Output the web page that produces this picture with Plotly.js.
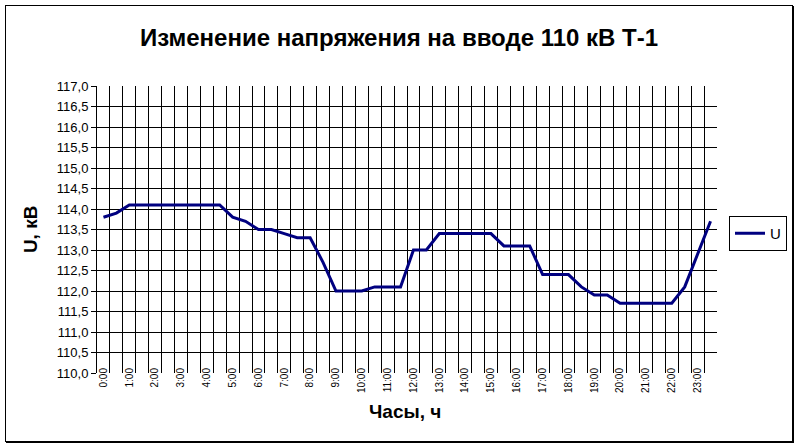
<!DOCTYPE html>
<html><head><meta charset="utf-8">
<script src="https://cdn.plot.ly/plotly-3.0.1.min.js"></script>
<style>
html,body{margin:0;padding:0;background:#fff;}
#wrap{position:relative;width:798px;height:447px;overflow:hidden;}
#chart{width:798px;height:447px;}
#frame{position:absolute;left:5px;top:5px;width:786px;height:435px;border:1px solid #000;box-shadow:1px 1px 0 #000;pointer-events:none;}
</style></head><body>
<div id="wrap"><div id="chart"></div><div id="frame"></div></div>
<script>
const times = ["0:00","0:30","1:00","1:30","2:00","2:30","3:00","3:30","4:00","4:30",
  "5:00","5:30","6:00","6:30","7:00","7:30","8:00","8:30","9:00","9:30",
  "10:00","10:30","11:00","11:30","12:00","12:30","13:00","13:30","14:00","14:30",
  "15:00","15:30","16:00","16:30","17:00","17:30","18:00","18:30","19:00","19:30",
  "20:00","20:30","21:00","21:30","22:00","22:30","23:00","23:30"];
const voltage = [113.8,113.9,114.1,114.1,114.1,114.1,114.1,114.1,114.1,114.1,
  113.8,113.7,113.5,113.5,113.4,113.3,113.3,112.7,112.0,112.0,
  112.0,112.1,112.1,112.1,113.0,113.0,113.4,113.4,113.4,113.4,
  113.4,113.1,113.1,113.1,112.4,112.4,112.4,112.1,111.9,111.9,
  111.7,111.7,111.7,111.7,111.7,112.1,112.9,113.7];
const yTickValues = [110.0,110.5,111.0,111.5,112.0,112.5,113.0,113.5,114.0,114.5,115.0,115.5,116.0,116.5,117.0];
const titleText = "Изменение напряжения на вводе 110 кВ Т-1";
const xTitle = "Часы, ч";
const yTitle = "U, кВ";
const seriesName = "U";

const xHours = times.map(t => { const p = t.split(":").map(Number); return p[0] + p[1] / 60; });
const hourTicks = xHours.filter((h, i) => times[i].endsWith(":00"));
const hourLabels = times.filter(t => t.endsWith(":00"));
const step = xHours[1] - xHours[0];
const boundaries = xHours.slice(1).map(h => h - step / 2);
const innerY = yTickValues.slice(1, -1);
const FONT = "Liberation Sans, Arial, sans-serif";

const traces = [
  {x: xHours, y: voltage, type: 'scatter', mode: 'lines', name: seriesName,
   line: {color: '#000080', width: 3}, hoverinfo: 'skip'},
  {x: [], y: [], type: 'scatter', mode: 'lines', yaxis: 'y2', showlegend: false, hoverinfo: 'skip'}
];

const layout = {
  width: 798, height: 447,
  margin: {l: 97, r: 80, t: 86, b: 74, pad: 0},
  paper_bgcolor: '#fff', plot_bgcolor: '#fff',
  separators: ', ',
  font: {family: FONT, color: '#000'},
  title: {text: titleText, x: 399 / 798, xref: 'container', xanchor: 'center',
          y: 1 - 38 / 447, yref: 'container', yanchor: 'middle',
          font: {family: FONT, size: 24, color: '#000', weight: 'bold'}},
  xaxis: {
    range: [xHours[0] - step / 2, xHours[xHours.length - 1] + step / 2],
    tickmode: 'array', tickvals: hourTicks, ticktext: hourLabels,
    tickangle: -90, showgrid: false, zeroline: false, showline: false, ticks: '',
    tickfont: {family: FONT, size: 10, color: '#000'},
    ticklabelstandoff: -8,
    minor: {tickmode: 'array', tickvals: boundaries, showgrid: true, gridcolor: '#000', gridwidth: 1, ticks: ''},
    fixedrange: true
  },
  yaxis: {
    range: [yTickValues[0], yTickValues[yTickValues.length - 1]],
    tickmode: 'array', tickvals: innerY, showticklabels: false,
    showgrid: true, gridcolor: '#000', gridwidth: 1, ticks: '', zeroline: false, showline: false,
    fixedrange: true
  },
  yaxis2: {
    overlaying: 'y', side: 'left', anchor: 'x',
    range: [yTickValues[0], yTickValues[yTickValues.length - 1]],
    tickmode: 'array', tickvals: yTickValues, tickformat: '.1f',
    ticks: 'outside', ticklen: 5, tickcolor: '#000', tickwidth: 1,
    showline: true, linecolor: '#000', linewidth: 1,
    showgrid: false, zeroline: false,
    tickfont: {family: FONT, size: 13, color: '#000'},
    fixedrange: true
  },
  legend: {x: (729 - 97) / 621, y: (373 - 216) / 287, xanchor: 'left', yanchor: 'top',
           bordercolor: '#000', borderwidth: 1, bgcolor: '#fff',
           font: {family: FONT, size: 15, color: '#000'}, itemwidth: 30},
  annotations: [
    {text: xTitle, xref: 'paper', yref: 'paper', x: (405 - 97) / 621, y: (373 - 411) / 287,
     xanchor: 'center', yanchor: 'middle', showarrow: false,
     font: {family: FONT, size: 19, color: '#000', weight: 'bold'}},
    {text: yTitle, xref: 'paper', yref: 'paper', x: (30 - 97) / 621, y: (373 - 229) / 287,
     xanchor: 'center', yanchor: 'middle', showarrow: false, textangle: -90,
     font: {family: FONT, size: 19, color: '#000', weight: 'bold'}}
  ],
  showlegend: true
};

Plotly.newPlot('chart', traces, layout, {staticPlot: true, displayModeBar: false});
</script>
</body></html>
